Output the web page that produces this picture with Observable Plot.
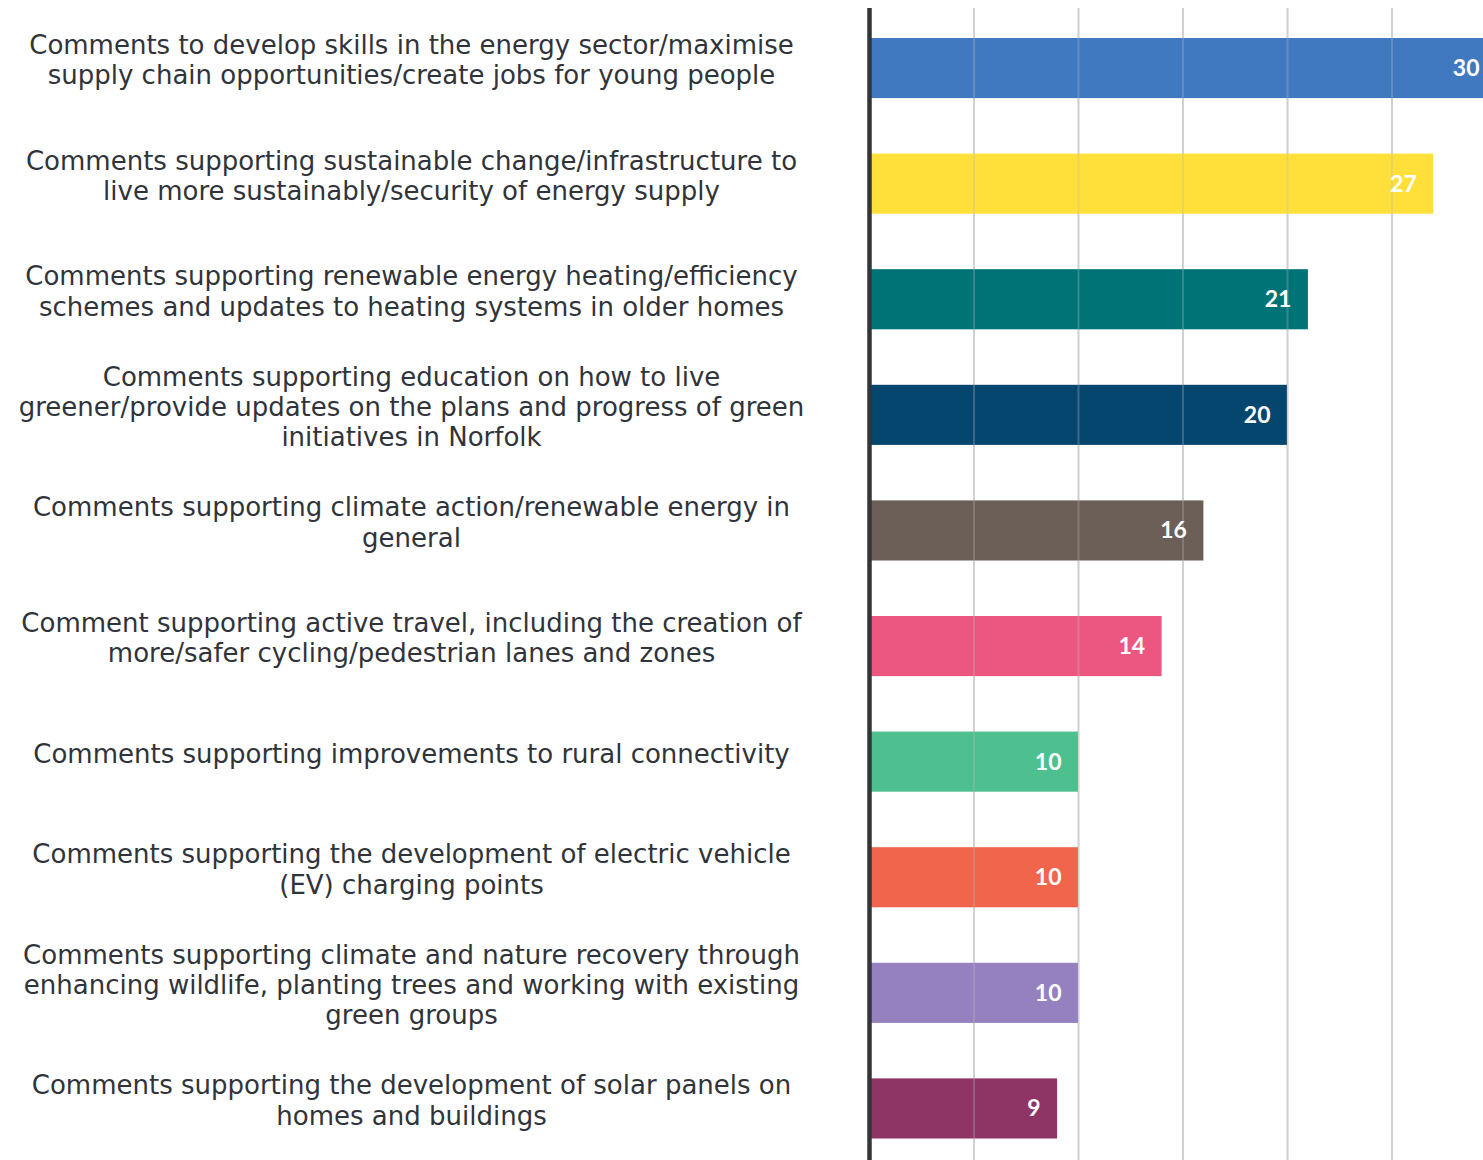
<!DOCTYPE html>
<html><head><meta charset="utf-8">
<script src="https://cdn.jsdelivr.net/npm/d3@7"></script>
<script src="https://cdn.jsdelivr.net/npm/@observablehq/plot@0.6"></script>
<style>html,body{margin:0;padding:0;background:#fff;overflow:hidden}</style>
</head><body><div id="chart"></div>
<script>
const categories = [
  "Comments to develop skills in the energy sector/maximise\nsupply chain opportunities/create jobs for young people",
  "Comments supporting sustainable change/infrastructure to\nlive more sustainably/security of energy supply",
  "Comments supporting renewable energy heating/efficiency\nschemes and updates to heating systems in older homes",
  "Comments supporting education on how to live\ngreener/provide updates on the plans and progress of green\ninitiatives in Norfolk",
  "Comments supporting climate action/renewable energy in\ngeneral",
  "Comment supporting active travel, including the creation of\nmore/safer cycling/pedestrian lanes and zones",
  "Comments supporting improvements to rural connectivity",
  "Comments supporting the development of electric vehicle\n(EV) charging points",
  "Comments supporting climate and nature recovery through\nenhancing wildlife, planting trees and working with existing\ngreen groups",
  "Comments supporting the development of solar panels on\nhomes and buildings"
];
const values = [30, 27, 21, 20, 16, 14, 10, 10, 10, 9];
const colors = ["#4179c0", "#ffe03a", "#007377", "#05466f", "#6b5f58", "#ec5782", "#4ebf8e", "#f0654c", "#9581bf", "#8f3566"];
const gridTicks = [5, 10, 15, 20, 25];

const data = categories.map((c, i) => ({category: c, value: values[i], color: colors[i]}));

const chart = Plot.plot({
  width: 1483, height: 1160,
  marginLeft: 869, marginRight: 0, marginTop: 8, marginBottom: 0,
  style: {fontFamily: "DejaVu Sans", background: "#fff", overflow: "hidden"},
  x: {domain: [0, 30], range: [869, 1496], axis: null},
  y: {domain: categories, range: [-17.5, 1194], padding: 0.48, round: false, axis: null},
  color: {type: "identity"},
  marks: [
    Plot.gridX(gridTicks, {stroke: "#dcdcdc", strokeWidth: 2, strokeOpacity: 1}),
    Plot.barX(data, {x: "value", y: "category", fill: "color", clip: true}),
    Plot.gridX(gridTicks, {stroke: "#bbbbbb", strokeWidth: 2, strokeOpacity: 0.3}),
    Plot.ruleX([0], {stroke: "#333638", strokeWidth: 4.5}),
    Plot.text(data, {x: "value", y: "category", text: d => String(d.value), textAnchor: "end", dx: -17,
      fill: "white", fontWeight: "bold", fontSize: 23, fontFamily: "Lato"}),
    Plot.text(data, {y: "category", text: "category", frameAnchor: "left", dx: -458, dy: -9,
      textAnchor: "middle", lineHeight: 1.17, fontSize: 26, fill: "#30343a"})
  ]
});
document.getElementById("chart").appendChild(chart);
</script>
</body></html>
